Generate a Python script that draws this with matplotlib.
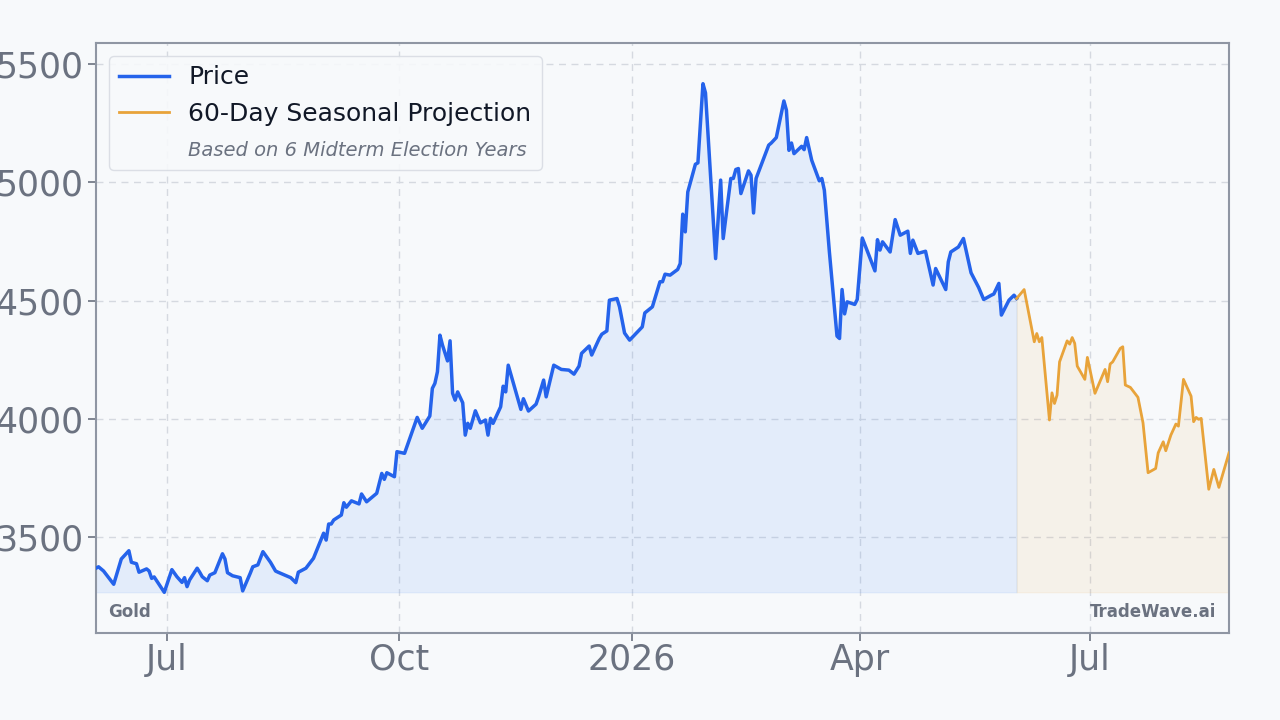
import matplotlib
matplotlib.use("Agg")
import matplotlib.pyplot as plt
from matplotlib.lines import Line2D
import numpy as np
import pandas as pd

# ---------------- data ----------------
price_dates = [
    "2025-06-03", "2025-06-04", "2025-06-06", "2025-06-10", "2025-06-13", "2025-06-16",
    "2025-06-17", "2025-06-19", "2025-06-20", "2025-06-23", "2025-06-24", "2025-06-25",
    "2025-06-26", "2025-06-30", "2025-07-03", "2025-07-05", "2025-07-07", "2025-07-08",
    "2025-07-09", "2025-07-10", "2025-07-13", "2025-07-14", "2025-07-15", "2025-07-17",
    "2025-07-18", "2025-07-20", "2025-07-23", "2025-07-24", "2025-07-25", "2025-07-27",
    "2025-07-30", "2025-07-31", "2025-08-03", "2025-08-04", "2025-08-06", "2025-08-08",
    "2025-08-11", "2025-08-13", "2025-08-14", "2025-08-19", "2025-08-21", "2025-08-22",
    "2025-08-25", "2025-08-28", "2025-09-01", "2025-09-02", "2025-09-03", "2025-09-04",
    "2025-09-05", "2025-09-08", "2025-09-09", "2025-09-10", "2025-09-12", "2025-09-15",
    "2025-09-16", "2025-09-18", "2025-09-22", "2025-09-24", "2025-09-25", "2025-09-26",
    "2025-09-29", "2025-09-30", "2025-10-03", "2025-10-08", "2025-10-10", "2025-10-13",
    "2025-10-14", "2025-10-15", "2025-10-16", "2025-10-17", "2025-10-18", "2025-10-20",
    "2025-10-21", "2025-10-22", "2025-10-23", "2025-10-24", "2025-10-26", "2025-10-27",
    "2025-10-28", "2025-10-29", "2025-10-31", "2025-11-02", "2025-11-04", "2025-11-05",
    "2025-11-06", "2025-11-07", "2025-11-10", "2025-11-11", "2025-11-12", "2025-11-13",
    "2025-11-18", "2025-11-19", "2025-11-21", "2025-11-24", "2025-11-25", "2025-11-27",
    "2025-11-28", "2025-12-01", "2025-12-04", "2025-12-07", "2025-12-09", "2025-12-11",
    "2025-12-12", "2025-12-15", "2025-12-16", "2025-12-19", "2025-12-20", "2025-12-22",
    "2025-12-23", "2025-12-26", "2025-12-27", "2025-12-29", "2025-12-31", "2026-01-05",
    "2026-01-06", "2026-01-09", "2026-01-12", "2026-01-13", "2026-01-14", "2026-01-16",
    "2026-01-19", "2026-01-20", "2026-01-21", "2026-01-22", "2026-01-23", "2026-01-26",
    "2026-01-27", "2026-01-29", "2026-01-30", "2026-02-03", "2026-02-05", "2026-02-06",
    "2026-02-09", "2026-02-10", "2026-02-11", "2026-02-12", "2026-02-13", "2026-02-16",
    "2026-02-17", "2026-02-18", "2026-02-19", "2026-02-24", "2026-02-25", "2026-02-27",
    "2026-03-02", "2026-03-03", "2026-03-04", "2026-03-05", "2026-03-06", "2026-03-09",
    "2026-03-10", "2026-03-11", "2026-03-13", "2026-03-16", "2026-03-17", "2026-03-18",
    "2026-03-20", "2026-03-23", "2026-03-24", "2026-03-25", "2026-03-26", "2026-03-27",
    "2026-03-30", "2026-03-31", "2026-04-02", "2026-04-07", "2026-04-08", "2026-04-09",
    "2026-04-10", "2026-04-13", "2026-04-15", "2026-04-17", "2026-04-20", "2026-04-21",
    "2026-04-22", "2026-04-24", "2026-04-27", "2026-04-30", "2026-05-01", "2026-05-05",
    "2026-05-06", "2026-05-07", "2026-05-10", "2026-05-12", "2026-05-15", "2026-05-18",
    "2026-05-20", "2026-05-23", "2026-05-24", "2026-05-26", "2026-05-27", "2026-05-28",
    "2026-05-30", "2026-06-01", "2026-06-02",
]
price_values = [
    3368, 3374, 3356, 3300, 3407, 3442,
    3393, 3387, 3351, 3365, 3356, 3325,
    3331, 3266, 3362, 3332, 3308, 3328,
    3290, 3318, 3368, 3351, 3332, 3315,
    3339, 3349, 3429, 3407, 3349, 3336,
    3328, 3272, 3347, 3374, 3382, 3438,
    3393, 3356, 3351, 3328, 3307, 3351,
    3368, 3410, 3516, 3487, 3555, 3555,
    3572, 3593, 3645, 3626, 3653, 3640,
    3682, 3649, 3685, 3769, 3744, 3772,
    3755, 3861, 3854, 4006, 3960, 4012,
    4129, 4150, 4199, 4354, 4312, 4245,
    4330, 4108, 4079, 4114, 4068, 3931,
    3981, 3960, 4034, 3983, 3995, 3931,
    4002, 3981, 4051, 4138, 4114, 4227,
    4040, 4085, 4033, 4062, 4093, 4164,
    4093, 4227, 4209, 4206, 4189, 4223,
    4277, 4308, 4270, 4340, 4358, 4372,
    4502, 4509, 4474, 4363, 4333, 4389,
    4448, 4474, 4580, 4580, 4612, 4608,
    4632, 4657, 4866, 4791, 4960, 5077,
    5083, 5418, 5379, 4678, 5010, 4763,
    5017, 5017, 5055, 5059, 4953, 5049,
    5031, 4871, 5017, 5158, 5167, 5190,
    5345, 5306, 5136, 5167, 5122, 5153,
    5139, 5190, 5094, 5007, 5017, 4967,
    4705, 4350, 4340, 4547, 4444, 4495,
    4484, 4505, 4765, 4626, 4758, 4714,
    4749, 4706, 4843, 4777, 4794, 4700,
    4756, 4700, 4709, 4566, 4636, 4547,
    4664, 4706, 4727, 4763, 4618, 4556,
    4505, 4523, 4528, 4573, 4439, 4460,
    4502, 4523, 4509,
]

proj_dates = [
    "2026-06-02", "2026-06-05", "2026-06-09", "2026-06-10", "2026-06-11", "2026-06-12",
    "2026-06-15", "2026-06-16", "2026-06-17", "2026-06-18", "2026-06-19", "2026-06-22",
    "2026-06-23", "2026-06-24", "2026-06-25", "2026-06-26", "2026-06-29", "2026-06-30",
    "2026-07-03", "2026-07-07", "2026-07-08", "2026-07-09", "2026-07-10", "2026-07-13",
    "2026-07-14", "2026-07-15", "2026-07-17", "2026-07-20", "2026-07-22", "2026-07-24",
    "2026-07-27", "2026-07-28", "2026-07-30", "2026-07-31", "2026-08-02", "2026-08-04",
    "2026-08-05", "2026-08-07", "2026-08-10", "2026-08-11", "2026-08-12", "2026-08-13",
    "2026-08-14", "2026-08-17", "2026-08-19", "2026-08-21", "2026-08-25",
]
proj_values = [
    4509, 4547, 4326, 4361, 4326, 4344,
    3995, 4110, 4065, 4100, 4241, 4330,
    4316, 4344, 4319, 4223, 4167, 4260,
    4108, 4209, 4157, 4232, 4241, 4298,
    4305, 4143, 4133, 4091, 3983, 3772,
    3790, 3856, 3903, 3865, 3931, 3978,
    3969, 4167, 4096, 3988, 4006, 3998,
    4002, 3702, 3786, 3710, 3856,
]

xtick_dates = ["2025-07-01", "2025-10-01", "2026-01-01", "2026-04-01", "2026-07-01"]
xtick_labels = ["Jul", "Oct", "2026", "Apr", "Jul"]
ytick_values = [3500, 4000, 4500, 5000, 5500]

# ---------------- styling ----------------
BG = "#f7f9fb"
BLUE = "#2563eb"
ORANGE = "#e8a33a"
GRAY_TEXT = "#6b7280"
GRID = "#d5d9e0"
SPINE = "#8f96a3"

plt.rcParams["font.family"] = ["DejaVu Sans"]

px = pd.to_datetime(price_dates)
pv = np.array(price_values, dtype=float)
qx = pd.to_datetime(proj_dates)
qv = np.array(proj_values, dtype=float)

fig = plt.figure(figsize=(12.8, 7.2), dpi=100, facecolor=BG)
ax = fig.add_axes([96 / 1280, 1 - 633 / 720, (1229 - 96) / 1280, (633 - 43) / 720])
ax.set_facecolor(BG)

all_vals = np.concatenate([pv, qv])
vmin, vmax = all_vals.min(), all_vals.max()
rng = vmax - vmin
base = pv.min()

ax.fill_between(px, pv, base, color="#3b82f6", alpha=0.1, linewidth=0.8, zorder=1)
ax.fill_between(qx, qv, base, color=ORANGE, alpha=0.09, linewidth=0.8, zorder=1)
ax.plot(px, pv, color=BLUE, lw=2.5, zorder=3, solid_joinstyle="round")
ax.plot(qx, qv, color=ORANGE, lw=2.0, zorder=3, solid_joinstyle="round")

ax.set_xlim(px[0], qx[-1])
ax.set_ylim(vmin - 0.08 * rng, vmax + 0.08 * rng)

ax.set_xticks(pd.to_datetime(xtick_dates))
ax.set_xticklabels(xtick_labels)
ax.set_yticks(ytick_values)
ax.set_yticklabels([str(v) for v in ytick_values])
ax.tick_params(axis="both", labelsize=25, colors=GRAY_TEXT, length=6, width=1.2)
ax.tick_params(axis="x", pad=1)
ax.tick_params(axis="y", pad=3)

ax.grid(True, color=GRID, linestyle=(0, (5, 4)), linewidth=1.0, zorder=0)
ax.set_axisbelow(True)
for s in ax.spines.values():
    s.set_color(SPINE)
    s.set_linewidth(1.5)

handles = [
    Line2D([], [], color=BLUE, lw=2.5),
    Line2D([], [], color=ORANGE, lw=2.0),
    Line2D([], [], color="none", lw=0),
]
labels = ["Price", "60-Day Seasonal Projection", "Based on 6 Midterm Election Years"]
leg = ax.legend(handles, labels, loc="upper left", fontsize=18, frameon=True,
                facecolor=BG, edgecolor="#d8dce3", framealpha=0.9, fancybox=True)
for t in leg.get_texts():
    t.set_color("#111827")
italic = leg.get_texts()[2]
italic.set_fontstyle("italic")
italic.set_fontsize(14)
italic.set_color(GRAY_TEXT)

ax.text(12 / 1133, 21 / 590, "Gold", transform=ax.transAxes, fontsize=12,
        fontweight="bold", color=GRAY_TEXT, ha="left", va="center")
ax.text(1 - 13 / 1133, 21 / 590, "TradeWave.ai", transform=ax.transAxes, fontsize=12,
        fontweight="bold", color=GRAY_TEXT, ha="right", va="center")

fig.savefig("out.png", dpi=100, facecolor=BG)
